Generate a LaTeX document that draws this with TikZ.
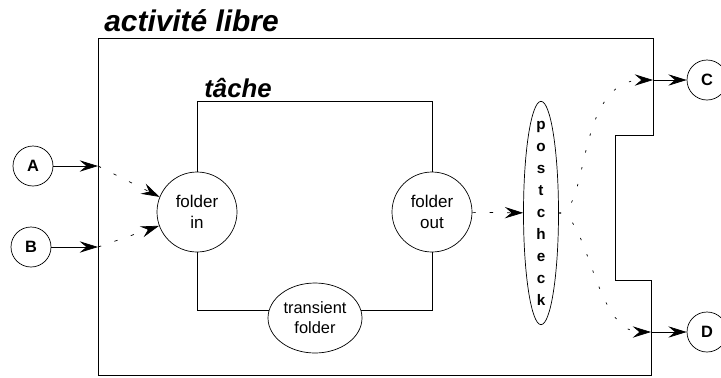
\documentclass[tikz,border=0pt]{standalone}
\usepackage{fontspec}
\setmainfont{Liberation Sans}
\usetikzlibrary{arrows.meta,shapes.geometric,calc}
\tikzset{
  every picture/.style={line width=0.6pt},
  port/.style={draw,circle,minimum size=12mm,inner sep=0,font=\bfseries\fontsize{14}{14}\selectfont},
  folder/.style={draw,circle,minimum size=24mm,inner sep=0,align=center,font=\fontsize{14.5}{18}\selectfont},
  transient/.style={draw,ellipse,minimum width=28.2mm,minimum height=21mm,inner sep=0,align=center,font=\fontsize{14}{17}\selectfont},
  check/.style={draw,ellipse,minimum width=10.5mm,minimum height=67mm,inner sep=0},
  checktxt/.style={align=center,inner sep=0,font=\bfseries\fontsize{13}{18.8}\selectfont},
  title/.style={font=\bfseries\itshape\fontsize{25.5}{26}\selectfont,inner sep=0},
  subtitle/.style={font=\bfseries\itshape\fontsize{22}{22}\selectfont,inner sep=0},
  flow/.style={-{Stealth[length=5.5mm,width=3.4mm,inset=2mm]}},
  dashflow/.style={flow,dash pattern=on 1mm off 4.2mm},
  dotflow/.style={flow,dash pattern=on 0.7mm off 4.5mm},
}

\begin{document}
\begin{tikzpicture}[x=0.3mm,y=-0.3mm]
\useasboundingbox (0,0) rectangle (721,377);
% --- activite libre ---
\draw (98,375) -- (98,38) -- (653,38) -- (653,135) -- (615,135) -- (615,280)
      -- (651,280) -- (651,375) -- cycle;
\node[title,anchor=base west] (libre) at (104,31) {activité libre};
\coordinate (eA) at (98,166);
\coordinate (eB) at (98,247);
\coordinate (eC) at (653,80);
\coordinate (eD) at (651,332);
% --- ports ---
\node[port] (A) at (33,166) {A};
\node[port] (B) at (31,247) {B};
\node[port] (C) at (707,80) {C};
\node[port] (D) at (707,332) {D};
% --- tache ---
\node[folder] (in) at (197,212) {folder\\in};
\node[folder] (out) at (432,212) {folder\\out};
\node[transient] (tr) at (315,318) {transient\\folder};
\node[subtitle,anchor=base west] (tache) at (204,97) {tâche};
\draw (in.north) -- ++(0,-70) -| (out.north);
\draw (in.south) |- (tr.170);
\draw (tr.10) -| (out.south);
% --- postcheck ---
\node[check] (pc) at (541,213) {};
\node[checktxt] (pctxt) at (pc) {p\\o\\s\\t\\c\\h\\e\\c\\k};
% --- flows ---
\draw[flow] (A) -- (eA);
\draw[flow] (B) -- (eB);
\draw[dashflow] (eA) -- (in.158);
\draw[dashflow] (eB) -- (in.200);
\draw[dashflow] (out) -- (pc);
\draw[dotflow] (pc.east) .. controls (590,213) and (575,80) .. (eC);
\draw[dotflow] (pc.east) .. controls (588,213) and (595,332) .. (eD);
\draw[flow] (eC) -- (C);
\draw[flow] (eD) -- (D);
\end{tikzpicture}
\end{document}
